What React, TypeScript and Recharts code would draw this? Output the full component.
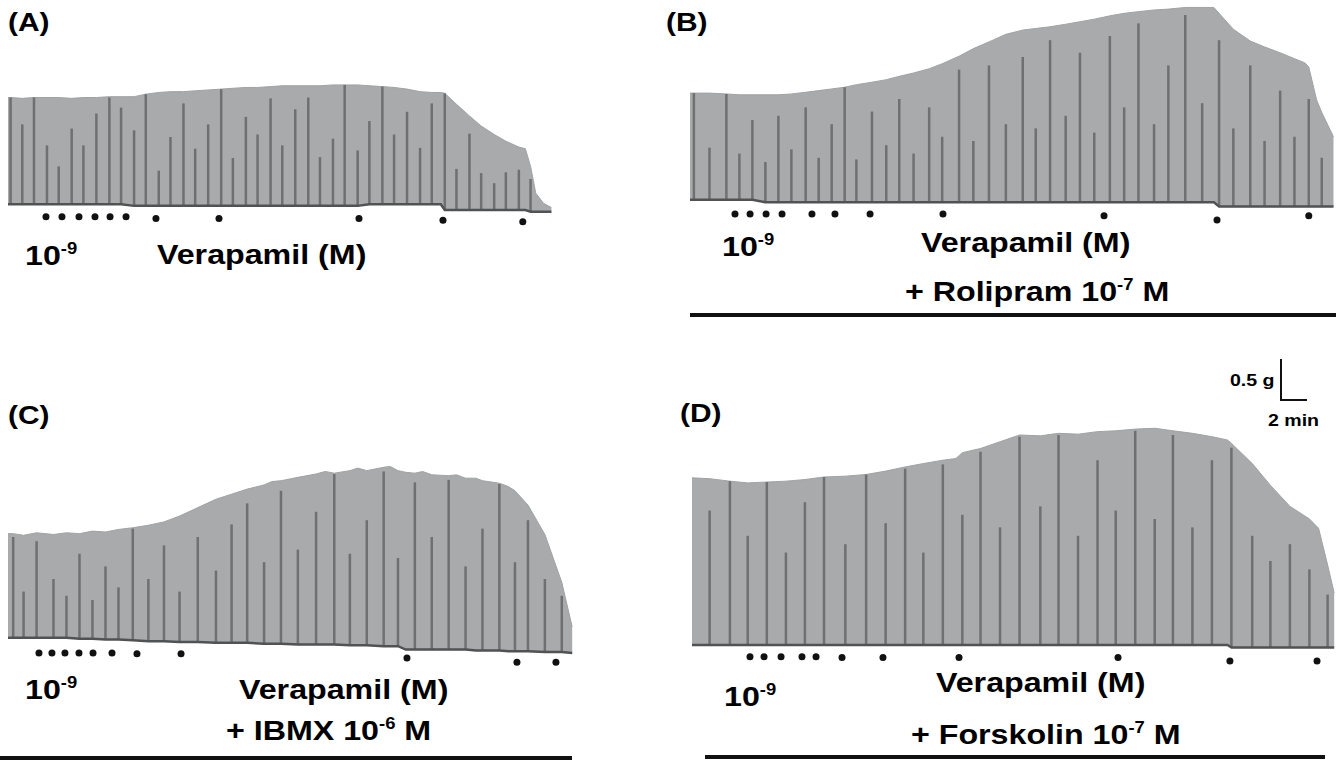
import React from "react";
import { Area, Bar, ComposedChart, Line, Scatter, XAxis, YAxis } from "recharts";

// scale bar of the figure: 0.5 g vertical, 2 min horizontal
const PX_MIN = 13;
const PX_G = 84;

type Row = [number, number, number, number | null]; // t (min), baseline (g), envelope top (g), contraction peak (g)

const A_TRACE: Row[] = [
  [0.0, 0, 1.27, null], [0.2, 0, 1.27, 1.27], [1.1, 0, 1.26, 0.95], [2.0, 0, 1.27, 1.27],
  [3.0, 0, 1.27, 0.7], [3.9, 0, 1.27, 0.45], [4.9, 0, 1.26, 0.9], [5.8, 0, 1.27, 0.7],
  [6.8, 0, 1.27, 1.08], [7.8, 0, 1.28, 1.27], [8.7, 0, 1.28, 1.15], [9.7, -0.02, 1.28, 0.88],
  [10.6, -0.02, 1.31, 1.31], [11.6, -0.02, 1.33, 0.4], [12.5, -0.02, 1.34, 0.8], [13.5, -0.02, 1.34, 1.2],
  [14.4, -0.02, 1.35, 0.66], [15.4, -0.02, 1.36, 0.95], [16.4, -0.02, 1.37, 1.37], [17.3, -0.02, 1.38, 0.55],
  [18.3, -0.02, 1.39, 1.04], [19.2, -0.02, 1.39, 0.83], [20.2, -0.02, 1.4, 1.26], [21.1, -0.02, 1.41, 0.7],
  [22.1, -0.02, 1.41, 1.13], [23.1, -0.02, 1.41, 1.27], [24.0, -0.02, 1.41, 0.56], [25.0, -0.02, 1.42, 0.78],
  [25.9, -0.02, 1.42, 1.42], [26.9, -0.02, 1.42, 0.64], [27.8, 0, 1.41, 0.99], [28.8, 0, 1.4, 1.4],
  [29.7, 0, 1.39, 0.83], [30.7, 0, 1.37, 1.1], [31.7, 0, 1.34, 0.67], [32.6, 0, 1.33, 1.2],
  [33.3, 0, 1.33, null], [33.6, -0.07, 1.32, 1.32], [34.5, -0.07, 1.19, 0.42], [35.5, -0.07, 1.05, 0.84],
  [36.4, -0.07, 0.93, 0.37], [37.4, -0.07, 0.83, 0.25], [38.3, -0.07, 0.75, 0.38], [39.3, -0.07, 0.68, 0.41],
  [39.8, -0.07, 0.66, null], [40.2, -0.09, 0.45, 0.3], [40.6, -0.09, 0.13, null], [41.2, -0.09, 0.01, null],
  [41.8, -0.09, -0.04, null],
];

const B_TRACE: Row[] = [
  [0.0, 0, 1.27, null], [0.3, 0, 1.27, 1.27], [1.5, 0, 1.27, 0.62], [2.8, 0, 1.26, 1.26],
  [3.8, 0, 1.25, 0.55], [4.8, 0, 1.25, 0.95], [5.8, -0.03, 1.25, 0.45], [6.8, -0.03, 1.25, 1.0],
  [7.8, -0.03, 1.26, 0.6], [8.9, -0.03, 1.28, 1.1], [9.9, -0.03, 1.3, 0.5], [10.9, -0.03, 1.32, 0.9],
  [11.9, -0.03, 1.34, 1.34], [12.8, -0.03, 1.37, 0.48], [14.0, -0.03, 1.4, 1.05], [15.1, -0.03, 1.43, 0.65],
  [16.1, -0.03, 1.47, 1.2], [17.2, -0.03, 1.51, 0.55], [18.4, -0.03, 1.56, 1.1], [19.4, -0.03, 1.62, 0.75],
  [20.7, -0.03, 1.71, 1.55], [21.8, -0.03, 1.8, 0.7], [23.0, -0.03, 1.88, 1.6], [24.3, -0.03, 1.97, 0.9],
  [25.6, -0.03, 2.02, 1.7], [26.6, -0.03, 2.04, 0.85], [27.7, -0.03, 2.06, 1.9], [28.9, -0.03, 2.09, 1.0],
  [30.0, -0.03, 2.12, 1.75], [31.1, -0.03, 2.15, 0.8], [32.3, -0.03, 2.19, 1.95], [33.4, -0.03, 2.22, 1.1],
  [34.5, -0.03, 2.24, 2.1], [35.7, -0.03, 2.26, 0.9], [36.8, -0.03, 2.27, 1.6], [38.1, -0.03, 2.29, 2.2],
  [39.4, -0.03, 2.29, 1.15], [40.3, -0.03, 2.29, null], [40.7, -0.08, 2.22, 1.9], [41.8, -0.08, 2.03, 0.85],
  [43.1, -0.08, 1.89, 1.6], [44.2, -0.08, 1.82, 0.7], [45.4, -0.08, 1.75, 1.3], [46.5, -0.08, 1.68, 0.75],
  [47.3, -0.08, 1.63, null], [47.6, -0.08, 1.58, 1.2], [48.2, -0.08, 1.19, null], [48.6, -0.08, 1.04, 0.5],
  [49.5, -0.08, 0.75, null],
];

const C_TRACE: Row[] = [
  [0.0, 0, 1.24, null], [0.4, 0, 1.24, 1.2], [1.2, 0, 1.22, 0.55], [2.2, 0, 1.25, 1.15],
  [3.5, 0, 1.23, 0.7], [4.5, 0, 1.25, 0.5], [5.5, -0.01, 1.24, 1.0], [6.5, -0.01, 1.27, 0.45],
  [7.5, -0.02, 1.26, 0.85], [8.5, -0.02, 1.29, 0.6], [9.6, -0.03, 1.31, 1.3], [10.8, -0.04, 1.34, 0.7],
  [12.0, -0.04, 1.38, 1.1], [13.2, -0.05, 1.45, 0.55], [14.6, -0.05, 1.55, 1.2], [16.0, -0.06, 1.65, 0.8],
  [17.2, -0.06, 1.71, 1.35], [18.4, -0.06, 1.77, 1.6], [19.7, -0.07, 1.82, 0.9], [20.3, -0.07, 1.86, null],
  [21.0, -0.07, 1.87, 1.75], [22.3, -0.08, 1.91, 1.05], [23.7, -0.08, 1.95, 1.5], [24.4, -0.08, 1.98, null],
  [25.1, -0.08, 1.96, 1.95], [26.3, -0.09, 1.99, 1.0], [26.9, -0.09, 2.02, null], [27.6, -0.09, 1.99, 1.4],
  [28.9, -0.1, 2.03, 1.98], [29.4, -0.1, 2.04, null], [30.0, -0.1, 1.99, 0.95], [30.6, -0.14, 1.97, null],
  [31.3, -0.14, 1.96, 1.85], [31.9, -0.14, 1.98, null], [32.6, -0.14, 1.94, 1.2], [33.9, -0.14, 1.93, 1.88],
  [34.5, -0.14, 1.94, null], [35.2, -0.14, 1.9, 0.85], [36.0, -0.15, 1.9, null], [36.5, -0.15, 1.87, 1.3],
  [37.8, -0.15, 1.84, 1.83], [38.5, -0.16, 1.8, null], [39.0, -0.16, 1.75, 0.9], [40.0, -0.16, 1.58, 1.4],
  [41.3, -0.17, 1.23, 0.7], [42.6, -0.17, 0.66, 0.5], [43.4, -0.18, 0.13, null],
];

const D_TRACE: Row[] = [
  [0.0, 0, 1.99, null], [1.36, 0, 1.98, 1.6], [2.92, 0, 1.95, 1.95], [4.29, 0, 1.93, 1.3],
  [5.76, 0, 1.94, 1.94], [7.23, 0, 1.95, 1.1], [8.69, 0, 1.97, 1.7], [10.16, 0, 2.0, 2.0],
  [11.8, 0, 2.01, 1.2], [13.4, 0, 2.03, 2.03], [14.9, 0, 2.07, 1.45], [16.4, 0, 2.12, 2.1],
  [17.8, 0, 2.16, 1.1], [19.3, 0, 2.2, 2.15], [20.3, 0, 2.22, null], [20.8, 0, 2.29, 1.55],
  [22.2, 0, 2.34, 2.3], [23.7, 0, 2.42, 1.4], [25.2, 0, 2.5, 2.48], [26.8, 0, 2.49, 1.65],
  [28.2, 0, 2.52, 2.5], [29.7, 0, 2.51, 1.3], [31.2, 0, 2.54, 2.2], [32.6, 0, 2.55, 1.6],
  [34.1, 0, 2.57, 2.55], [35.6, 0, 2.58, 1.5], [37.0, 0, 2.55, 2.5], [38.5, 0, 2.52, 1.4],
  [40.0, 0, 2.48, 2.2], [41.2, 0, 2.44, null], [41.5, -0.03, 2.4, 2.35], [43.1, -0.03, 2.16, 1.3],
  [44.5, -0.03, 1.9, 1.0], [46.0, -0.03, 1.65, 1.2], [47.5, -0.03, 1.5, 0.9], [48.2, -0.03, 1.39, null],
  [48.9, -0.03, 0.95, 0.6], [49.4, -0.03, 0.62, null],
];

// verapamil additions (t in min, marker level in g)
const A_DOTS = [[2.92, -0.15], [4.15, -0.15], [5.46, -0.15], [6.69, -0.15], [7.85, -0.15], [9.08, -0.15], [11.38, -0.17], [16.23, -0.17], [27.0, -0.17], [33.46, -0.19], [39.6, -0.21]];
const B_DOTS = [[3.46, -0.17], [4.62, -0.17], [5.85, -0.17], [7.08, -0.17], [9.38, -0.17], [11.15, -0.17], [13.85, -0.17], [19.46, -0.17], [31.85, -0.19], [40.54, -0.24], [47.6, -0.19]];
const C_DOTS = [[2.38, -0.18], [3.38, -0.18], [4.38, -0.18], [5.46, -0.18], [6.54, -0.18], [8.0, -0.18], [9.92, -0.19], [13.31, -0.19], [30.69, -0.24], [39.15, -0.29], [42.15, -0.29]];
const D_DOTS = [[4.46, -0.14], [5.54, -0.14], [6.85, -0.14], [8.46, -0.14], [9.54, -0.14], [11.54, -0.15], [14.69, -0.15], [20.54, -0.15], [32.77, -0.15], [41.38, -0.19], [48.08, -0.19]];

const FONT = '"Liberation Sans", Arial, sans-serif';
const STRETCH = 1.15;

type Panel = { trace: Row[]; dots: number[][]; left: number; baseY: number; T: number; ymin: number; ymax: number };

const PANELS: Panel[] = [
  { trace: A_TRACE, dots: A_DOTS, left: 8, baseY: 204, T: 42, ymin: -0.3, ymax: 1.55 },
  { trace: B_TRACE, dots: B_DOTS, left: 690, baseY: 200, T: 49.6, ymin: -0.35, ymax: 2.45 },
  { trace: C_TRACE, dots: C_DOTS, left: 8, baseY: 638, T: 43.6, ymin: -0.4, ymax: 2.2 },
  { trace: D_TRACE, dots: D_DOTS, left: 692, baseY: 645, T: 49.5, ymin: -0.3, ymax: 2.75 },
];

const Dot = (props: any) => <circle cx={props.cx} cy={props.cy} r={3.5} fill="#111" />;

// thin contraction stroke centred on the band the library computed
const Spike = (props: any) => {
  const { x, y, width, height } = props;
  if (!height || Math.abs(height) < 0.5) return null;
  return <rect x={x + width / 2 - 1.25} y={Math.min(y, y + height)} width={2.5} height={Math.abs(height)} fill="#6e7072" />;
};

function Trace({ p }: { p: Panel }) {
  const rows = p.trace.map(([t, base, top, spike]) => ({ t, base, top, spike }));
  const dots = p.dots.map(([t, g]) => ({ t, g }));
  return (
    <div style={{ position: "absolute", left: p.left, top: p.baseY - p.ymax * PX_G }}>
      <ComposedChart
        width={p.T * PX_MIN}
        height={(p.ymax - p.ymin) * PX_G}
        data={rows}
        margin={{ top: 0, right: 0, bottom: 0, left: 0 }}
      >
        <XAxis dataKey="t" type="number" domain={[0, p.T]} hide />
        <YAxis type="number" domain={[p.ymin, p.ymax]} hide allowDataOverflow />
        <Area
          dataKey={(r: any) => [r.base, r.top]}
          type="linear"
          fill="#a8aaac"
          fillOpacity={1}
          stroke="#a0a2a4"
          strokeWidth={1}
          isAnimationActive={false}
        />
        <Bar
          dataKey={(r: any) => [r.base, r.spike ?? r.base]}
          fill="#6e7072"
          barSize={3}
          shape={Spike}
          isAnimationActive={false}
        />
        <Line dataKey="base" type="linear" stroke="#505254" strokeWidth={2.5} dot={false} isAnimationActive={false} />
        <Scatter data={dots} dataKey="g" shape={Dot} isAnimationActive={false} />
      </ComposedChart>
    </div>
  );
}

function Text({ x, cy, size, children }: { x: number; cy: number; size: number; children: React.ReactNode }) {
  return (
    <div
      style={{
        position: "absolute",
        left: x,
        top: cy - size * 0.49,
        fontSize: size,
        lineHeight: `${size}px`,
        fontFamily: FONT,
        fontWeight: 700,
        color: "#000",
        whiteSpace: "nowrap",
        transform: `scaleX(${STRETCH})`,
        transformOrigin: "left center",
      }}
    >
      {children}
    </div>
  );
}

const Sup = ({ children }: { children: React.ReactNode }) => (
  <span style={{ fontSize: 16, position: "relative", top: -11 }}>{children}</span>
);

const Rule = ({ x, y, w }: { x: number; y: number; w: number }) => (
  <div style={{ position: "absolute", left: x, top: y, width: w, height: 4, background: "#111" }} />
);

export default function App() {
  return (
    <div style={{ position: "absolute", left: 0, top: 0, width: 1336, height: 760, background: "#fff", overflow: "hidden" }}>
      {PANELS.map((p, i) => (
        <Trace key={i} p={p} />
      ))}

      <Text x={8} cy={22} size={26}>(A)</Text>
      <Text x={666} cy={22} size={26}>(B)</Text>
      <Text x={8} cy={415} size={26}>(C)</Text>
      <Text x={680} cy={413} size={26}>(D)</Text>

      <Text x={25} cy={256} size={28}>10<Sup>-9</Sup></Text>
      <Text x={722} cy={247} size={28}>10<Sup>-9</Sup></Text>
      <Text x={25} cy={690} size={28}>10<Sup>-9</Sup></Text>
      <Text x={724} cy={697} size={28}>10<Sup>-9</Sup></Text>

      <Text x={157} cy={255} size={28}>Verapamil (M)</Text>
      <Text x={921} cy={243} size={28}>Verapamil (M)</Text>
      <Text x={239} cy={690} size={28}>Verapamil (M)</Text>
      <Text x={936} cy={683} size={28}>Verapamil (M)</Text>

      <Text x={905} cy={292} size={28}>+ Rolipram 10<Sup>-7</Sup> M</Text>
      <Text x={226} cy={731} size={28}>+ IBMX 10<Sup>-6</Sup> M</Text>
      <Text x={911} cy={735} size={28}>+ Forskolin 10<Sup>-7</Sup> M</Text>

      <Rule x={690} y={313} w={646} />
      <Rule x={0} y={756} w={572} />
      <Rule x={705} y={755} w={620} />

      {/* scale bar */}
      <Text x={1230} cy={380} size={17}>0.5 g</Text>
      <div style={{ position: "absolute", left: 1280, top: 359, width: 2, height: 42, background: "#111" }} />
      <div style={{ position: "absolute", left: 1280, top: 399, width: 27, height: 2, background: "#111" }} />
      <Text x={1268} cy={420} size={17}>2 min</Text>
    </div>
  );
}
